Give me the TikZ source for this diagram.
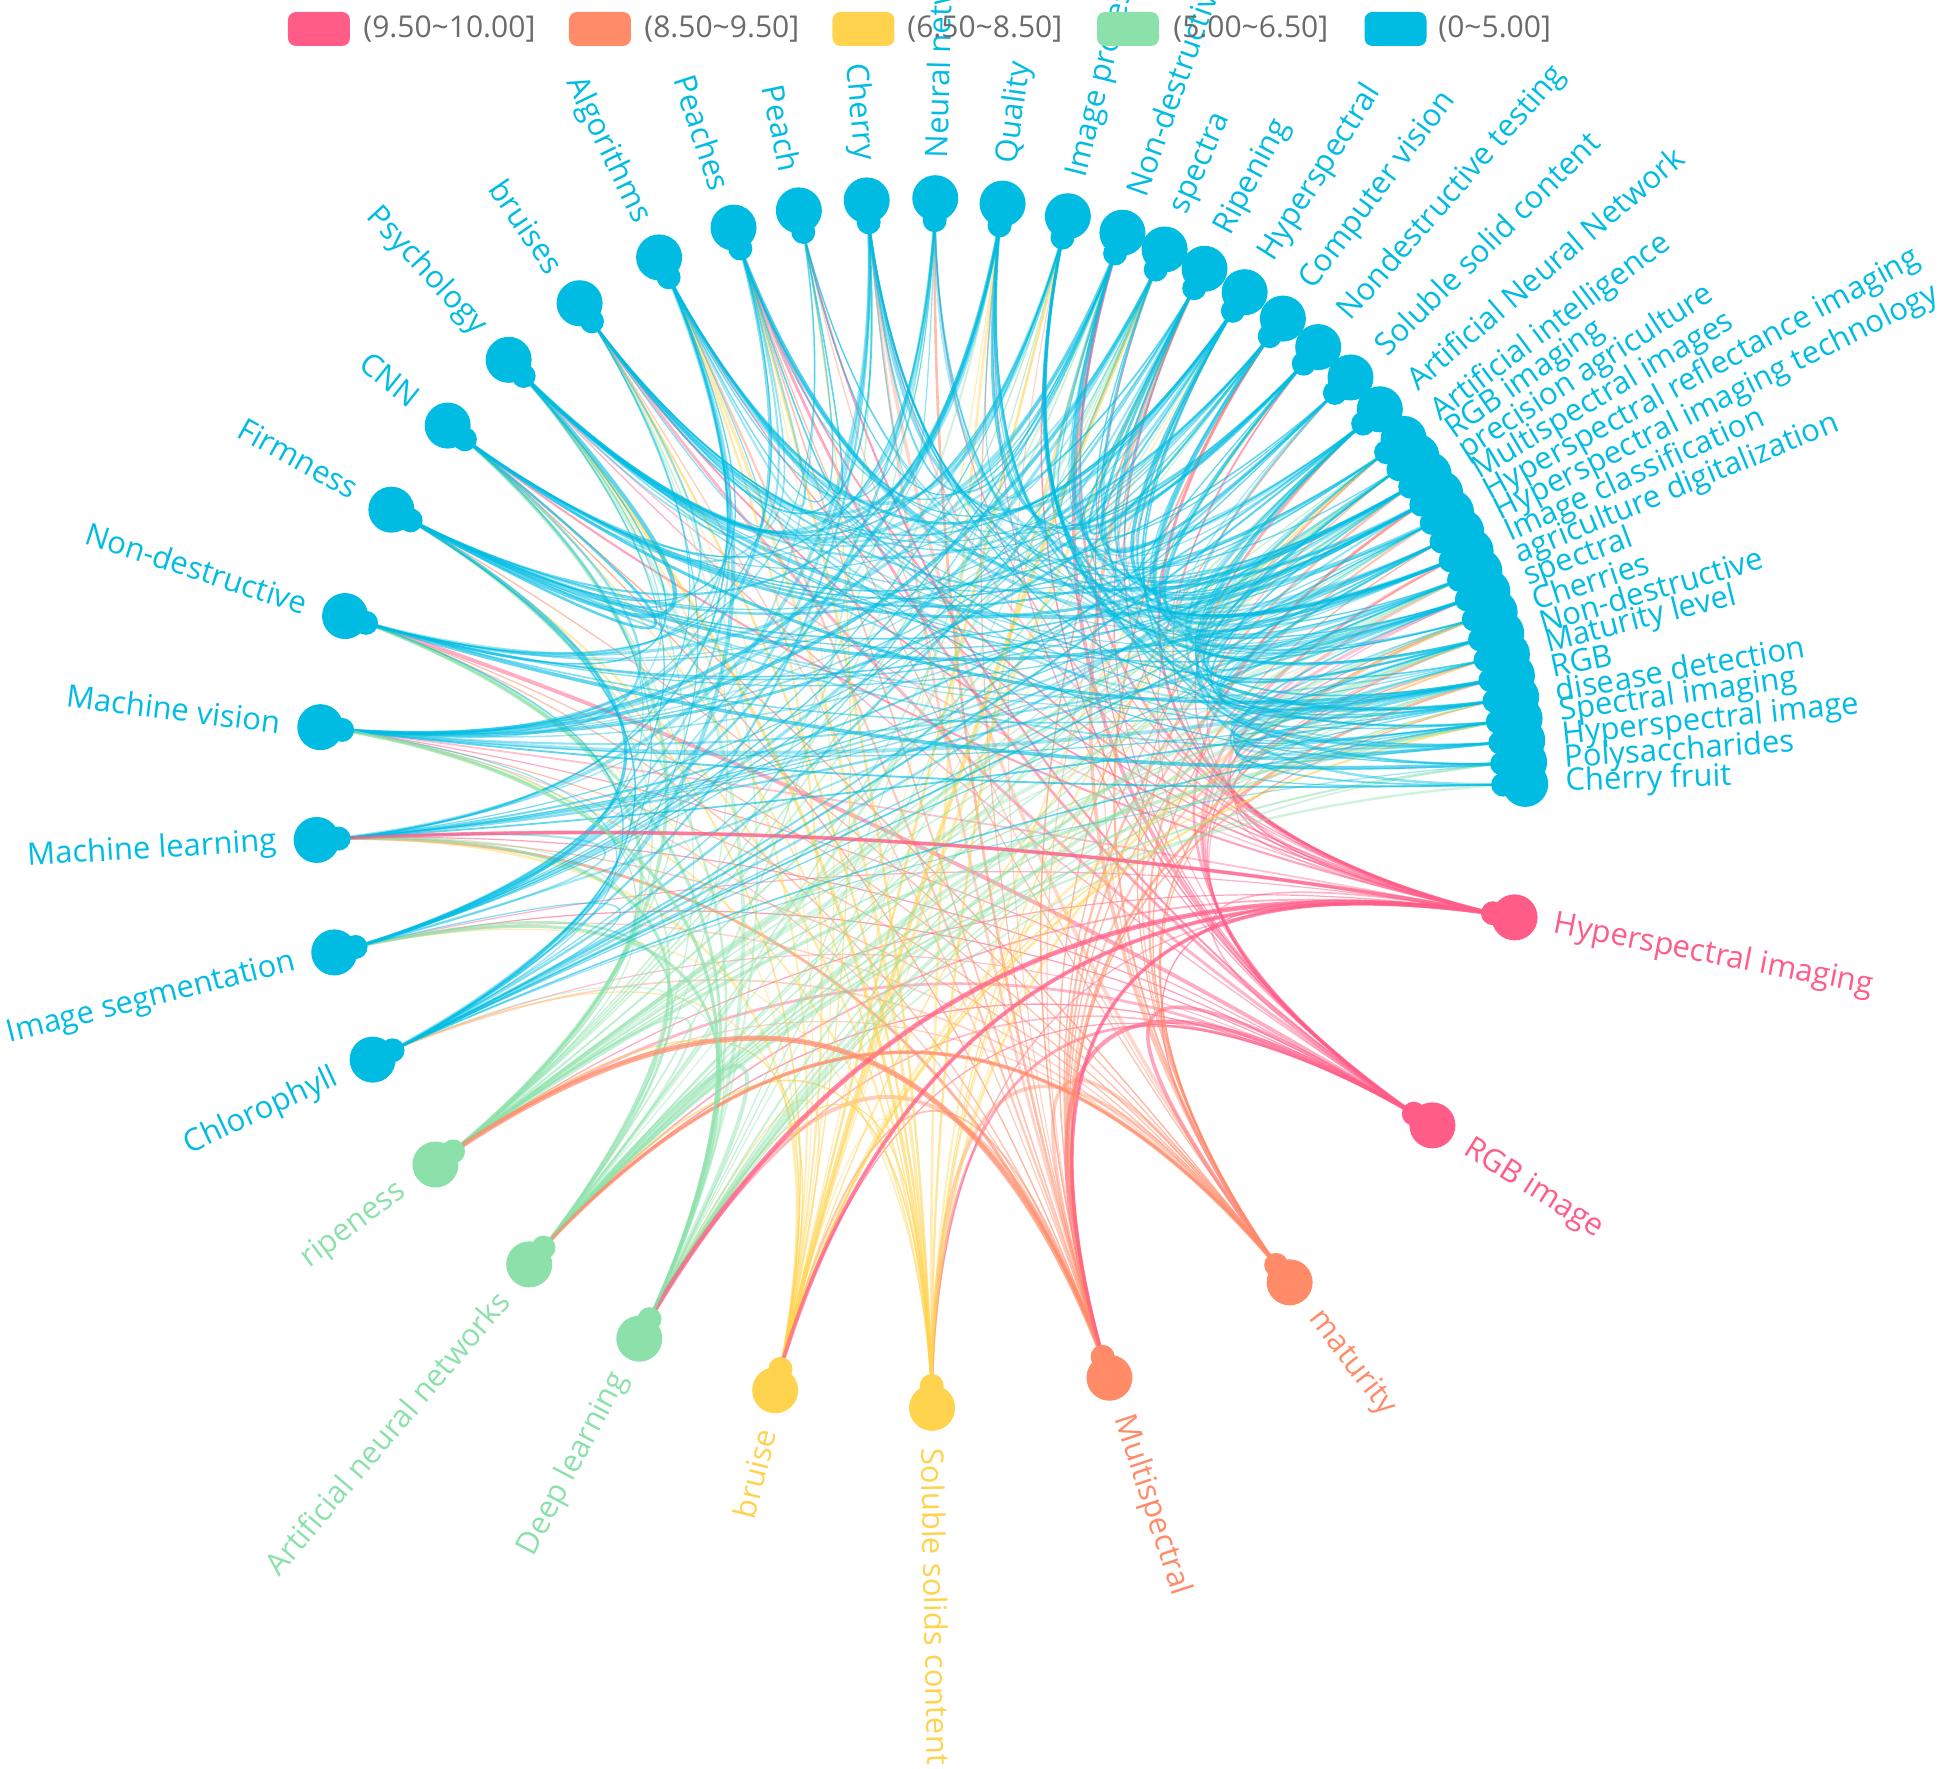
\documentclass[tikz,border=0pt]{standalone}
\usepackage{fontspec}
\setmainfont{Open Sans}
\usetikzlibrary{calc}
\definecolor{pinkc}{HTML}{FF5C87}
\definecolor{orangec}{HTML}{FF8B69}
\definecolor{yellowc}{HTML}{FFD34E}
\definecolor{greenc}{HTML}{8CE1AA}
\definecolor{bluec}{HTML}{00BCE2}
\definecolor{legtxt}{HTML}{6B6B6B}
\newcommand\kwcol[1]{%
  \ifnum#1<3 \def\ncol{pinkc}\else
  \ifnum#1<5 \def\ncol{orangec}\else
  \ifnum#1<7 \def\ncol{yellowc}\else
  \ifnum#1<10 \def\ncol{greenc}\else
  \def\ncol{bluec}\fi\fi\fi\fi}
\def\kwlist{1/-10.9/Hyperspectral imaging,2/-32.2/RGB image,3/-52.4/maturity,4/-71.8/Multispectral,5/-88.9/Soluble solids content,6/-103.9/bruise,7/-117.7/Deep learning,8/-130.3/Artificial neural networks,9/-143.3/ripeness,10/-154.9/Chlorophyll,11/-165.7/Image segmentation,12/-176.5/Machine learning,13/172.8/Machine vision,14/162.0/Non-destructive,15/151.0/Firmness,16/141.4/CNN,17/132.9/Psychology,18/124.3/bruises,19/115.6/Algorithms,20/108.0/Peaches,21/101.6/Peach,22/95.1/Cherry,23/88.6/Neural network,24/82.2/Quality,25/75.9/Image processing,26/70.5/Non-destructive detection,27/66.2/spectra,28/62.0/Ripening,29/57.6/Hyperspectral,30/53.2/Computer vision,31/48.9/Nondestructive testing,32/44.7/Soluble solid content,33/40.6/Artificial Neural Network,34/37.0/Artificial intelligence,35/34.93/RGB imaging,36/32.86/precision agriculture,37/30.79/Multispectral images,38/28.72/Hyperspectral reflectance imaging,39/26.65/Hyperspectral imaging technology,40/24.58/Image classification,41/22.51/agriculture digitalization,42/20.44/spectral,43/18.37/Cherries,44/16.30/Non-destructive,45/14.23/Maturity level,46/12.16/RGB,47/10.09/disease detection,48/8.02/Spectral imaging,49/5.95/Hyperspectral image,50/3.88/Polysaccharides,51/1.81/Cherry fruit}
\newcommand\kwweight[1]{%
  \ifnum#1<3 \def\kww{1.3}\else
  \ifnum#1<5 \def\kww{1.15}\else
  \ifnum#1<7 \def\kww{1.0}\else
  \ifnum#1<10 \def\kww{0.95}\else
  \pgfmathsetmacro\kww{0.85-0.014*(#1-10)}\fi\fi\fi\fi}
\begin{document}
\begin{tikzpicture}[x=0.5pt,y=0.5pt,
  dot/.style={circle,inner sep=0pt,minimum size=23pt},
  lab/.style={font=\fontsize{15.5}{18}\selectfont,inner sep=0pt},
  edge/.style={line cap=round},
  legbox/.style={rounded corners=4pt,minimum width=31pt,minimum height=17pt,inner sep=0pt},
  legtext/.style={font=\fontsize{15}{18}\selectfont,text=legtxt,inner sep=0pt,anchor=west}]
\useasboundingbox (-920.5,-965) rectangle (1028.5,803);
\clip (-920.5,-965) rectangle (1028.5,803);
\coordinate (O) at (0,0);
% edge anchor points
\foreach \k/\a/\t in \kwlist { \coordinate (p\k) at (\a:583); }
% connectors
\pgfmathsetseed{4242}
\foreach \i in {1,...,50}{
  \kwcol{\i}
  \kwweight{\i}\let\ai\kww
  \pgfmathtruncatemacro\js{\i+1}
  \foreach \j in {\js,...,51}{
    \kwweight{\j}
    \pgfmathsetmacro\pr{0.72*\ai*\kww}
    \pgfmathsetmacro\rr{rnd}
    \ifdim\rr pt<\pr pt
      \pgfmathsetmacro\rw{rnd}
      \pgfmathsetmacro\ww{0.6+1.5*\rw*\rw*\rw}
      \pgfmathsetmacro\op{0.35+0.3*rnd}
      \coordinate (q) at ($0.05*(p\i)+0.05*(p\j)$);
      \draw[edge,draw=\ncol,draw opacity=\op,line width=\ww pt] (p\i) .. controls ($(p\i)!0.6667!(q)$) and ($(p\j)!0.6667!(q)$) .. (p\j);
    \fi
  }
}
% a few heavy connectors
\foreach \i/\j/\c/\w in {4/9/orangec/2.6,1/7/pinkc/2.4,1/6/pinkc/2.0,1/4/pinkc/1.8,3/8/orangec/1.8,1/12/pinkc/1.6,7/13/greenc/1.6}{
  \coordinate (q) at ($0.05*(p\i)+0.05*(p\j)$);
  \draw[edge,draw=\c,draw opacity=0.7,line width=\w pt] (p\i) .. controls ($(p\i)!0.6667!(q)$) and ($(p\j)!0.6667!(q)$) .. (p\j);
}
% nodes and labels
\foreach \k/\a/\t in \kwlist {
  \kwcol{\k}
  \fill[fill=\ncol] (p\k) circle (12);
  \node[dot,fill=\ncol] (n\k) at (\a:605) {};
  \pgfmathtruncatemacro\flip{(\a>90 || \a<-90) ? 1 : 0}
  \ifnum\flip=1
    \pgfmathsetmacro\rot{\a+180}
    \node[lab,text=\ncol,rotate=\rot,anchor=east] (t\k) at (\a:645) {\t};
  \else
    \node[lab,text=\ncol,rotate=\a,anchor=west] (t\k) at (\a:645) {\t};
  \fi
}
% legend
\node[legbox,fill=pinkc] (k1) at (-601.5,774) {};
\node[legtext] (k1t) at (-557.5,774) {(9.50\textasciitilde10.00]};
\node[legbox,fill=orangec] (k2) at (-320.5,774) {};
\node[legtext] (k2t) at (-276.5,774) {(8.50\textasciitilde9.50]};
\node[legbox,fill=yellowc] (k3) at (-57,774) {};
\node[legtext] (k3t) at (-13.5,774) {(6.50\textasciitilde8.50]};
\node[legbox,fill=greenc] (k4) at (207.5,774) {};
\node[legtext] (k4t) at (252.5,774) {(5.00\textasciitilde6.50]};
\node[legbox,fill=bluec] (k5) at (475,774) {};
\node[legtext] (k5t) at (517.5,774) {(0\textasciitilde5.00]};
\end{tikzpicture}
\end{document}
